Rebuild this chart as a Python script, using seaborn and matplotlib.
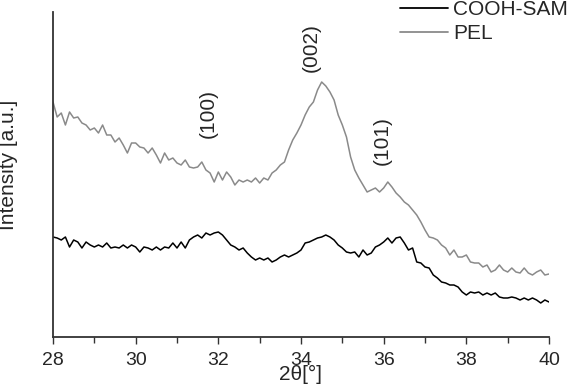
import numpy as np
import pandas as pd
import matplotlib
matplotlib.use("Agg")
import matplotlib.pyplot as plt
from matplotlib.ticker import MultipleLocator
from matplotlib.lines import Line2D
import seaborn as sns

# 2theta grid (degrees), 0.1 step
two_theta = np.round(np.arange(280, 401) / 10, 1)

pel = [235, 220, 224, 212, 225, 219, 220, 214, 212, 207,
       209, 204, 212, 202, 202, 195, 199, 192, 184, 194,
       194, 190, 189, 184, 189, 182, 174, 184, 177, 179,
       174, 172, 177, 170, 169, 170, 175, 167, 164, 155,
       165, 157, 165, 160, 152, 157, 155, 157, 155, 159,
       154, 159, 157, 164, 167, 172, 175, 187, 197, 204,
       212, 222, 230, 235, 247, 255, 251, 245, 237, 222,
       212, 200, 180, 167, 159, 152, 145, 147, 149, 145,
       149, 155, 150, 144, 140, 135, 132, 127, 122, 115,
       107, 100, 99, 97, 92, 89, 82, 87, 80, 80,
       82, 75, 74, 74, 70, 72, 65, 67, 72, 67,
       65, 69, 65, 64, 69, 64, 62, 65, 67, 62,
       63]

cooh_sam = [100, 99, 97, 100, 90, 97, 95, 89, 95, 92,
            90, 92, 90, 94, 89, 90, 89, 92, 89, 92,
            90, 85, 90, 89, 87, 90, 87, 90, 89, 94,
            89, 95, 89, 97, 100, 102, 99, 104, 102, 104,
            105, 102, 97, 92, 90, 87, 89, 84, 80, 77,
            79, 77, 79, 75, 77, 80, 82, 80, 82, 84,
            87, 94, 95, 97, 99, 100, 102, 100, 97, 92,
            89, 85, 84, 85, 80, 87, 82, 84, 90, 92,
            95, 99, 94, 99, 100, 94, 87, 89, 75, 74,
            70, 69, 62, 59, 55, 54, 52, 52, 50, 45,
            42, 45, 44, 45, 42, 44, 42, 44, 40, 39,
            39, 40, 39, 37, 39, 37, 39, 37, 34, 37,
            35]

series_names = ["COOH-SAM", "PEL"]
peak_labels = ["(100)", "(002)", "(101)"]
peak_x = [31.75, 34.25, 35.96]
peak_y = [223, 289, 196]

df = pd.concat([
    pd.DataFrame({"2theta": two_theta, "intensity": cooh_sam, "sample": "COOH-SAM"}),
    pd.DataFrame({"2theta": two_theta, "intensity": pel, "sample": "PEL"}),
])

sns.set_style("white")
plt.rcParams["font.family"] = ["Liberation Sans", "DejaVu Sans"]

fig = plt.figure(figsize=(5.67, 3.84), dpi=100)
ax = fig.add_axes([53 / 567, 1 - 337 / 384, 496 / 567, 325 / 384])

colors = {"COOH-SAM": "#000000", "PEL": "#8a8a8a"}
sns.lineplot(data=df, x="2theta", y="intensity", hue="sample",
             hue_order=series_names, palette=colors,
             estimator=None, linewidth=1.1, ax=ax, legend=False)

ax.set_xlim(28, 40)
ax.set_ylim(0, 325)
ax.set_yticks([])
ax.xaxis.set_major_locator(MultipleLocator(2))
ax.xaxis.set_minor_locator(MultipleLocator(1))
ax.tick_params(axis="x", which="major", direction="out", length=5, width=1.0,
               color="#333333", labelsize=14, pad=6, bottom=True)
ax.tick_params(axis="x", which="minor", direction="out", length=4, width=1.0,
               color="#333333", bottom=True)
for s in ["top", "right"]:
    ax.spines[s].set_visible(False)
for s in ["left", "bottom"]:
    ax.spines[s].set_color("#333333")
    ax.spines[s].set_linewidth(1.3)

ax.set_xlabel("2θ[°]", fontsize=15, labelpad=-3)
ax.set_ylabel("Intensity [a.u.]", fontsize=15)
ax.yaxis.set_label_coords(-0.07, 0.53)

for lab, px, py in zip(peak_labels, peak_x, peak_y):
    ax.text(px, py, lab, rotation=90, ha="center", va="center", fontsize=15)

handles = [Line2D([], [], color=colors[n], lw=1.3) for n in series_names]
ax.legend(handles, series_names, loc="upper left", bbox_to_anchor=(400 / 567, 1.0),
          bbox_transform=fig.transFigure, frameon=False, fontsize=15,
          borderaxespad=0, borderpad=0, handlelength=2.3, handletextpad=0.25,
          labelspacing=0.25)

fig.savefig("out.png", dpi=100)
